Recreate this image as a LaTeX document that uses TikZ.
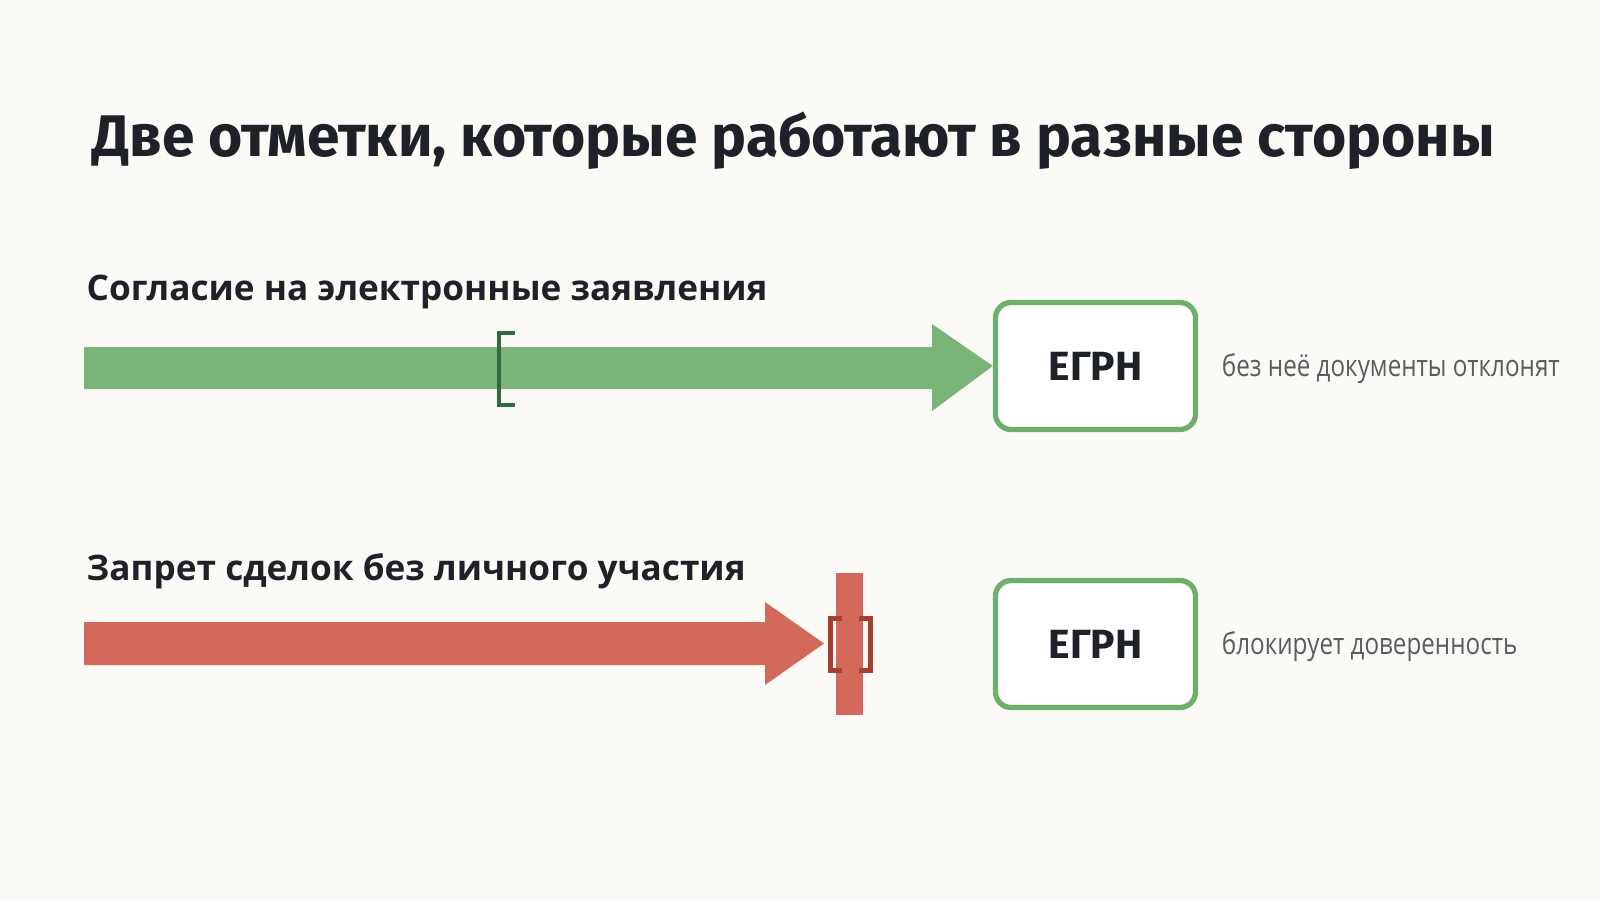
\documentclass[tikz,border=0pt]{standalone}
\usepackage{fontspec}
\setmainfont{Fira Sans}
\newfontfamily\headfont{Open Sans}
\newfontfamily\notefont[FakeStretch=0.81]{Open Sans}
\definecolor{bgcol}{HTML}{FBFAF6}
\definecolor{inkcol}{HTML}{1E2228}
\definecolor{okfill}{HTML}{7BB478}
\definecolor{okline}{HTML}{6FAF6C}
\definecolor{okdark}{HTML}{2F6B3B}
\definecolor{nofill}{HTML}{D3695A}
\definecolor{nodark}{HTML}{A8402F}
\definecolor{notecol}{HTML}{5A5C60}
\begin{document}
\begin{tikzpicture}[x=0.01cm,y=-0.01cm,line cap=butt,
	egrnbox/.style={draw=okline,line width=1.5pt,rounded corners=4.5pt,fill=white,
		minimum width=2cm,minimum height=1.27cm,inner sep=0pt,text=inkcol,
		font=\bfseries\fontsize{11.6}{14}\selectfont},
	heading/.style={anchor=base west,inner sep=0pt,text=inkcol,font=\headfont\bfseries\fontsize{10}{12}\selectfont},
	note/.style={anchor=west,inner sep=0pt,text=notecol,font=\notefont\fontsize{8.5}{10}\selectfont},
	bracketline/.style={line width=1.4pt}]
	\fill[bgcol] (0,0) rectangle (1600,900);
	\useasboundingbox (0,0) rectangle (1600,900);
	\node[anchor=base west,inner sep=0pt,text=inkcol,font=\bfseries\fontsize{16.7}{20}\selectfont] (title) at (92,156) {Две отметки, которые работают в разные стороны};
	% first mark
	\node[heading] (head1) at (86,300) {Согласие на электронные заявления};
	\node[egrnbox] (egrn1) at (1095.5,366) {ЕГРН};
	\node[note] (note1) at ([xshift=0.23cm,yshift=-0.03cm]egrn1.east) {без неё документы отклонят};
	\fill[okfill] (84,347) -- (932,347) -- (932,324) -- (egrn1.west) -- (932,411) -- (932,389) -- (84,389) -- cycle;
	\draw[bracketline,okdark] (515,333) -- (499,333) -- (499,405) -- (515,405);
	% second mark
	\node[heading] (head2) at (86,580) {Запрет сделок без личного участия};
	\node[egrnbox] (egrn2) at (1095.5,644) {ЕГРН};
	\node[note] (note2) at ([xshift=0.23cm,yshift=-0.03cm]egrn2.east) {блокирует доверенность};
	\coordinate (stop) at (824,643.5);
	\fill[nofill] (84,622) -- (765,622) -- (765,602) -- (stop) -- (765,685) -- (765,665) -- (84,665) -- cycle;
	\fill[nofill] (836,573) rectangle (863,715);
	\draw[bracketline,nodark] (842,618.5) -- (830.5,618.5) -- (830.5,670.5) -- (842,670.5);
	\draw[bracketline,nodark] (859,618.5) -- (870.5,618.5) -- (870.5,670.5) -- (859,670.5);
\end{tikzpicture}
\end{document}
